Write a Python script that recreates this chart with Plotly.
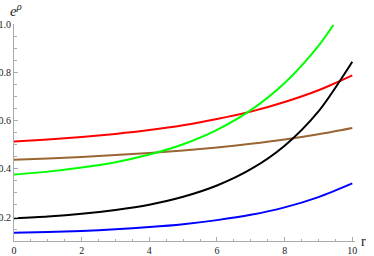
import plotly.graph_objects as go

r = [0, 1, 2, 3, 4, 5, 6, 7, 8, 9, 10]
r_green = [0, 1, 2, 3, 4, 5, 6, 7, 8, 9, 9.44]

red = [0.515, 0.523, 0.533, 0.546, 0.562, 0.582, 0.608, 0.639, 0.679, 0.728, 0.790]
green = [0.377, 0.389, 0.406, 0.428, 0.460, 0.503, 0.563, 0.645, 0.758, 0.913, 1.0]
brown = [0.439, 0.444, 0.450, 0.458, 0.467, 0.477, 0.490, 0.505, 0.523, 0.545, 0.571]
black = [0.195, 0.202, 0.213, 0.229, 0.251, 0.284, 0.331, 0.399, 0.497, 0.640, 0.847]
blue = [0.134, 0.1375, 0.142, 0.149, 0.158, 0.170, 0.187, 0.209, 0.240, 0.283, 0.340]

x_ticks = [0, 2, 4, 6, 8, 10]
y_ticks = [0.2, 0.4, 0.6, 0.8, 1.0]

fig = go.Figure()
series = [
    (r, red, "#ff0000"),
    (r, brown, "#996633"),
    (r_green, green, "#00ff00"),
    (r, black, "#000000"),
    (r, blue, "#0000ff"),
]
for xs, ys, col in series:
    fig.add_trace(go.Scatter(x=xs, y=ys, mode="lines",
                             line=dict(color=col, width=2, shape="spline", smoothing=0.8),
                             showlegend=False, hoverinfo="skip"))

font = dict(family="Liberation Serif", size=10, color="#222222")
tick_col = "#aaaaaa"

fig.update_layout(
    width=374, height=256,
    margin=dict(l=14, r=19, t=24, b=15, autoexpand=False),
    paper_bgcolor="white", plot_bgcolor="white",
    font=font,
    xaxis=dict(range=[0, 10.08], showgrid=False, zeroline=False,
               showline=True, linecolor=tick_col, linewidth=1,
               ticks="inside", ticklen=4, tickcolor=tick_col,
               tickvals=x_ticks, ticktext=[str(v) for v in x_ticks],
               minor=dict(ticks="inside", ticklen=2.5, tickcolor=tick_col, dtick=0.5, showgrid=False),
               tickfont=font, automargin=False),
    yaxis=dict(range=[0.1, 1.004], showgrid=False, zeroline=False,
               showline=True, linecolor=tick_col, linewidth=1,
               ticks="inside", ticklen=4, tickcolor=tick_col,
               tickvals=y_ticks, ticktext=["%.1f" % v for v in y_ticks],
               minor=dict(ticks="inside", ticklen=2.5, tickcolor=tick_col, tick0=0, dtick=0.05, showgrid=False),
               tickfont=font, automargin=False),
    annotations=[
        dict(text="<i>e</i><sup><i>ρ</i></sup>", xref="paper", yref="paper",
             x=0, y=1, xshift=2, yshift=3, xanchor="center", yanchor="bottom", showarrow=False,
             font=dict(family="Liberation Serif", size=15, color="#222222")),
        dict(text="r", xref="paper", yref="paper", x=1, y=0, xshift=4, yshift=0,
             xanchor="left", yanchor="middle", showarrow=False,
             font=dict(family="Liberation Serif", size=14, color="#222222")),
    ],
)

fig.write_html("out.html",
               config={"displayModeBar": False},
               post_script="document.body.style.margin='0';document.body.style.padding='0';")
